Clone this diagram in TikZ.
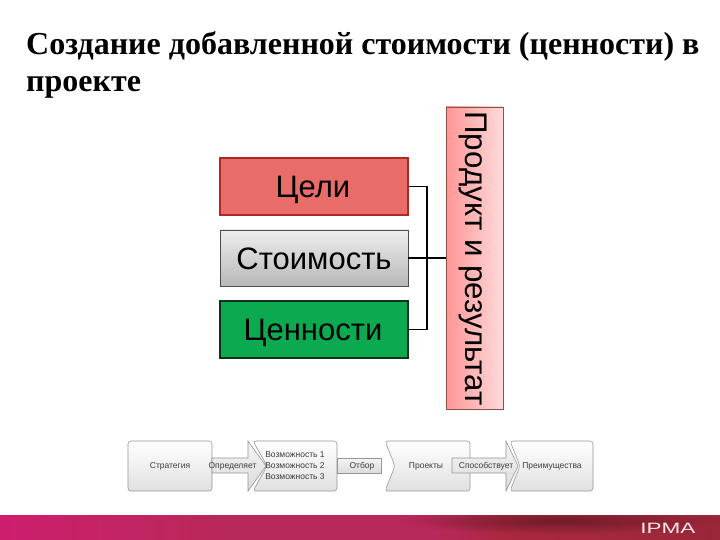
\documentclass[tikz,border=0pt]{standalone}
\usepackage{fontspec}
\setmainfont{Liberation Sans}
\newfontfamily\titlefont{Liberation Serif}
\usetikzlibrary{fadings}
\definecolor{goalfill}{RGB}{232,108,104}
\definecolor{goalline}{RGB}{175,40,40}
\definecolor{valuefill}{RGB}{12,170,80}
\definecolor{valueline}{RGB}{10,50,30}
\definecolor{sidefillA}{RGB}{255,150,150}
\definecolor{sidefillB}{RGB}{255,218,218}
\definecolor{sideline}{RGB}{140,80,70}
\definecolor{stageline}{RGB}{150,150,150}
\definecolor{stagetext}{RGB}{60,60,60}
\definecolor{bandA}{RGB}{205,30,110}
\definecolor{bandB}{RGB}{185,40,90}
\definecolor{bandC}{RGB}{170,40,65}
\definecolor{bandD}{RGB}{160,40,60}
\definecolor{bandE}{RGB}{140,35,50}
\definecolor{bandF}{RGB}{150,35,55}
\pgfdeclarehorizontalshading{bandshade}{100bp}{
 color(0bp)=(bandA); color(25bp)=(bandA); color(40bp)=(bandB); color(55bp)=(bandB); color(60bp)=(bandC); color(70bp)=(bandD); color(85bp)=(bandE); color(100bp)=(bandF)}
\tikzfading[name=streakfade,inner color=transparent!25,outer color=transparent!100]
\tikzset{
 titletext/.style={anchor=base west,inner sep=0pt,font=\titlefont\bfseries\fontsize{32}{32}\selectfont,text=black},
 mainbox/.style={minimum width=188pt,inner sep=0pt},
 maintext/.style={inner sep=0pt,anchor=base,font=\fontsize{31}{31}\selectfont,text=black},
 link/.style={draw=black,line width=1.5pt},
 stage/.style={draw=stageline,line width=.6pt,top color=white,bottom color=black!12,rounded corners=3pt},
 pipe/.style={draw=stageline,line width=.6pt,top color=black!4,bottom color=black!14},
 small/.style={inner sep=0pt,font=\fontsize{8.5}{8.5}\selectfont,text=stagetext}
}
\begin{document}
\begin{tikzpicture}[x=1pt,y=-1pt]
\useasboundingbox (0,0) rectangle (720,540);
\fill[white] (0,0) rectangle (720,540);
\node[titletext] (t1) at (26,55) {Создание добавленной стоимости (ценности) в};
\node[titletext] (t2) at (26,92) {проекте};
% main boxes
\node[mainbox,minimum height=57pt,fill=goalfill,draw=goalline,line width=1.2pt] (goal) at (314,186.5) {};
\node[mainbox,minimum height=56pt,draw=black!70,line width=.8pt,top color=black!7,bottom color=black!28] (cost) at (314,258) {};
\node[mainbox,minimum height=57pt,fill=valuefill,draw=valueline,line width=1.2pt] (value) at (314,329.5) {};
\node[maintext] (goaltext) at (313,197) {Цели};
\node[maintext] (costtext) at (314,269) {Стоимость};
\node[maintext] (valuetext) at (313,340) {Ценности};
\node[draw=sideline,line width=.6pt,left color=sidefillA,right color=sidefillB,minimum width=57pt,minimum height=302pt,inner sep=0pt] (side) at (474.5,258) {};
\node[rotate=-90,inner sep=0pt,font=\fontsize{31.3}{31.3}\selectfont,text=black] (sidetext) at (473.5,258.5) {Продукт и результат};
\coordinate (bus) at (427,258);
\draw[link] (goal.east) -| (bus);
\draw[link] (value.east) -| (bus);
\draw[link] (cost.east) -- (side.west);
% bottom strip
\path[stage] (128,441) rectangle (212,491);
\path[pipe] (212,458) -- (248,458) -- (248,441) -- (266,466) -- (248,491) -- (248,473) -- (212,473) -- cycle;
\path[stage] (253,441) -- (337,441) -- (337,491) -- (253,491) -- (267,466) -- cycle;
\path[pipe] (337,458) -- (381,458) -- (381,473) -- (337,473) -- cycle;
\path[stage] (385,441) -- (470,441) -- (470,491) -- (385,491) -- (395,466) -- cycle;
\path[pipe] (452,458) -- (506,458) -- (506,441) -- (518,466) -- (506,491) -- (506,473) -- (452,473) -- cycle;
\path[stage] (510,441) -- (593,441) -- (593,491) -- (510,491) -- (520,466) -- cycle;
\node[small] (s1) at (170,466) {Стратегия};
\node[small] (a1) at (232.5,466) {Определяет};
\node[small] (s2a) at (295,455) {Возможность 1};
\node[small] (s2b) at (295,466) {Возможность 2};
\node[small] (s2c) at (295,477) {Возможность 3};
\node[small] (a2) at (362,466) {Отбор};
\node[small] (s3) at (426,466) {Проекты};
\node[small] (a3) at (486,466) {Способствует};
\node[small] (s4) at (552,466) {Преимущества};
% footer
\shade[shading=bandshade] (0,515) rectangle (720,540);
\fill[black!45!bandE,path fading=streakfade,opacity=.8] (400,508) rectangle (720,534);
\fill[white] (380,505) rectangle (720,515);
\node[inner sep=0pt,anchor=base west,xscale=1.5,font=\fontsize{15}{15}\selectfont,text=white!90!red] (ipma) at (640,533) {IPMA};
\end{tikzpicture}
\end{document}
